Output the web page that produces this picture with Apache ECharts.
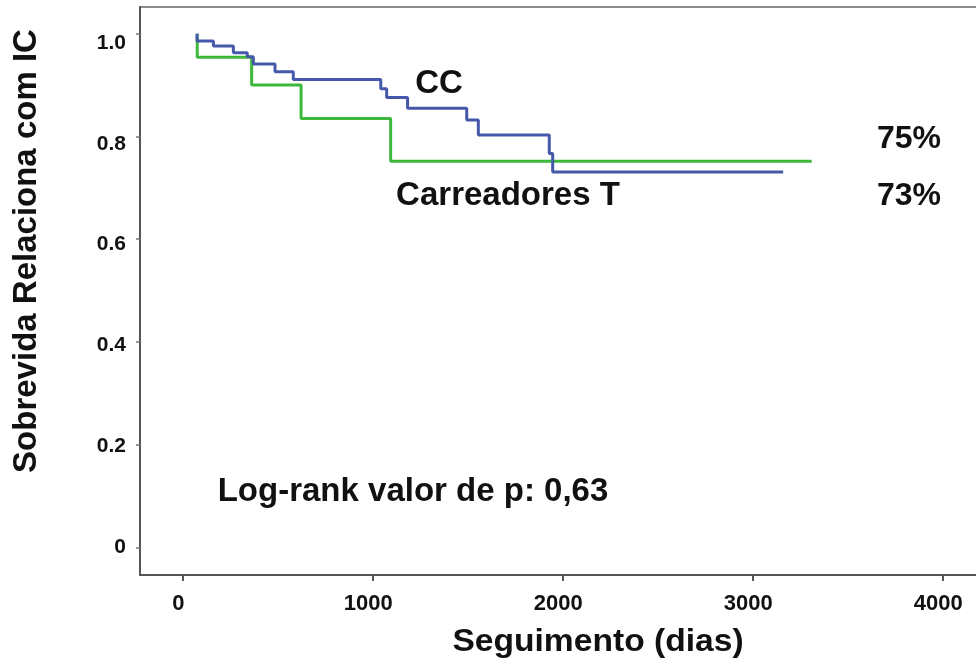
<!DOCTYPE html>
<html>
<head>
<meta charset="utf-8">
<script src="https://cdn.jsdelivr.net/npm/echarts@6/dist/echarts.min.js"></script>
<style>
  html, body { margin: 0; padding: 0; background: #fff; }
  #chart { width: 976px; height: 668px; }
</style>
</head>
<body>
<div id="chart"></div>
<script>
// curvas Kaplan-Meier: [dias, sobrevida]
const ccCurve = [
  [77, 1.0], [77, 0.986], [163, 0.976], [268, 0.963], [341, 0.955],
  [373, 0.941], [487, 0.926], [583, 0.911], [1043, 0.893], [1074, 0.876],
  [1184, 0.855], [1495, 0.832], [1556, 0.803], [1929, 0.767], [1947, 0.731],
  [3159, 0.731]
]
const carreadoresCurve = [
  [78, 1.0], [78, 0.954], [364, 0.900], [624, 0.835], [1095, 0.752],
  [3309, 0.752]
]
const xTicks = [0, 1000, 2000, 3000, 4000]
const yTicks = [0, 0.2, 0.4, 0.6, 0.8, 1.0]

const chart = echarts.init(document.getElementById('chart'))

const font = '"Liberation Sans", Arial, sans-serif'
const axisColor = '#555'

// no original os rótulos ficam um pouco deslocados das marcas,
// por isso há um eixo só para marcas e outro só para rótulos
chart.setOption({
  animation: false,
  backgroundColor: '#fff',
  grid: {
    left: 140,
    top: 7,
    right: -12,
    bottom: 93,
    show: true,
    borderColor: '#666',
    borderWidth: 1.5,
    outerBoundsMode: 'none'
  },
  xAxis: [
    {
      type: 'value',
      min: -223,
      max: 4236,
      splitLine: { show: false },
      axisLine: { onZero: false, lineStyle: { color: axisColor, width: 2 } },
      axisTick: { customValues: xTicks, length: 6, lineStyle: { color: axisColor, width: 2 } },
      axisLabel: { show: false }
    },
    {
      type: 'value',
      position: 'bottom',
      min: -201.6,
      max: 4261.6,
      splitLine: { show: false },
      axisLine: { show: false },
      axisTick: { show: false },
      axisLabel: {
        customValues: xTicks,
        margin: 18,
        color: '#111',
        fontFamily: font,
        fontWeight: 'bold',
        fontSize: 22,
        formatter: v => String(v)
      }
    }
  ],
  yAxis: [
    {
      type: 'value',
      min: -0.0535,
      max: 1.052,
      splitLine: { show: false },
      axisLine: { onZero: false, lineStyle: { color: axisColor, width: 2 } },
      axisTick: { customValues: yTicks, length: 4, lineStyle: { color: '#777', width: 1.5 } },
      axisLabel: { show: false }
    },
    {
      type: 'value',
      position: 'left',
      min: -0.0556,
      max: 1.0714,
      splitLine: { show: false },
      axisLine: { show: false },
      axisTick: { show: false },
      axisLabel: {
        customValues: yTicks,
        margin: 14,
        color: '#111',
        fontFamily: font,
        fontWeight: 'bold',
        fontSize: 21,
        formatter: v => (v === 0 ? '0' : v.toFixed(1))
      }
    }
  ],
  series: [
    {
      name: 'CC',
      type: 'line',
      step: 'end',
      data: ccCurve,
      symbol: 'none',
      lineStyle: { color: '#4558aa', width: 3 },
      z: 3
    },
    {
      name: 'Carreadores T',
      type: 'line',
      step: 'end',
      data: carreadoresCurve,
      symbol: 'none',
      lineStyle: { color: '#3db83d', width: 3 },
      z: 2
    }
  ],
  graphic: [
    {
      type: 'text', x: 27, y: 251, rotation: Math.PI / 2,
      style: { text: 'Sobrevida Relaciona com IC', font: 'bold 33px ' + font, fill: '#111', align: 'center', verticalAlign: 'middle' }
    },
    {
      type: 'text', x: 598, y: 642, scaleX: 1.05,
      style: { text: 'Seguimento (dias)', font: 'bold 32px ' + font, fill: '#111', align: 'center', verticalAlign: 'middle' }
    },
    {
      type: 'text', x: 439, y: 84,
      style: { text: 'CC', font: 'bold 33px ' + font, fill: '#111', align: 'center', verticalAlign: 'middle' }
    },
    {
      type: 'text', x: 508, y: 196,
      style: { text: 'Carreadores T', font: 'bold 33px ' + font, fill: '#111', align: 'center', verticalAlign: 'middle' }
    },
    {
      type: 'text', x: 909, y: 139,
      style: { text: '75%', font: 'bold 32px ' + font, fill: '#111', align: 'center', verticalAlign: 'middle' }
    },
    {
      type: 'text', x: 909, y: 196,
      style: { text: '73%', font: 'bold 32px ' + font, fill: '#111', align: 'center', verticalAlign: 'middle' }
    },
    {
      type: 'text', x: 413, y: 492,
      style: { text: 'Log-rank valor de p: 0,63', font: 'bold 33px ' + font, fill: '#111', align: 'center', verticalAlign: 'middle' }
    }
  ]
})
</script>
</body>
</html>
